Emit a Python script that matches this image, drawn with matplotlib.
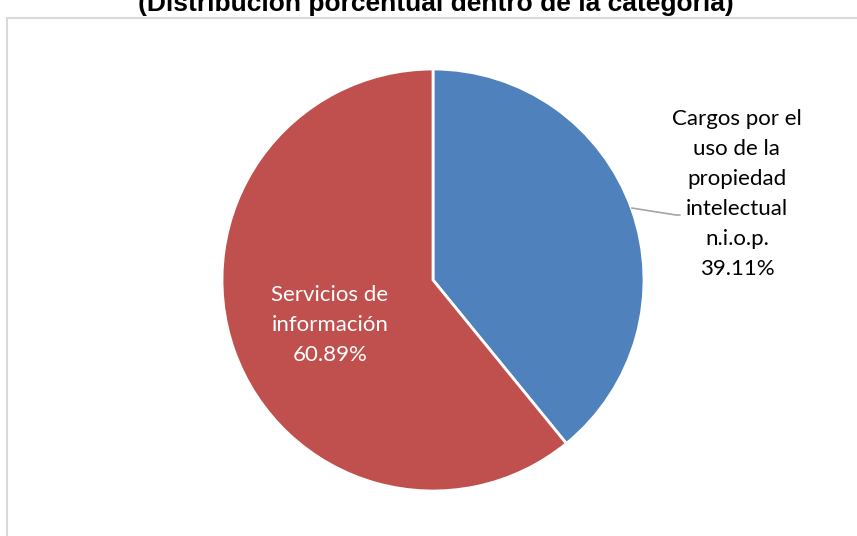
import matplotlib.pyplot as plt
from matplotlib.patches import Rectangle

# share of each service within the category (%)
categories = ["Cargos por el\nuso de la\npropiedad\nintelectual\nn.i.o.p.", "Servicios de\ninformación"]
shares = [39.11, 60.89]
colors = ["#4F81BD", "#C0504D"]
title = "(Distribución porcentual dentro de la categoría)"

W, H = 857, 536
fig = plt.figure(figsize=(W / 100, H / 100), dpi=100)

# light frame of the chart area
fig.patches.append(Rectangle((7 / W, -0.1), 1.2, 1 - 18 / H + 0.1, transform=fig.transFigure,
                             facecolor="none", edgecolor="#d9d9d9", lw=1.5))

fig.text(436 / W, 1 - 11 / H, title, ha="center", va="baseline",
         fontsize=19, fontweight="bold", family="Liberation Sans")

# pie axes: centre (433, 280), radius 211 px
cx, cy, r = 433, 280, 211
ax = fig.add_axes([(cx - r) / W, (H - cy - r) / H, 2 * r / W, 2 * r / H])

wedges, _ = ax.pie(shares, colors=colors, startangle=90, counterclock=False, radius=1,
                   wedgeprops=dict(edgecolor="white", linewidth=2))
ax.set_xlim(-1, 1)
ax.set_ylim(-1, 1)
ax.set_aspect("equal")
ax.axis("off")

font = "Lato"
ax.text(-0.488, -0.213, f"{categories[1]}\n{shares[1]:.2f}%", ha="center", va="center",
        color="white", fontsize=16, family=font, linespacing=1.62)
ax.text(1.44, 0.408, f"{categories[0]}\n{shares[0]:.2f}%", ha="center", va="center",
        color="black", fontsize=16, family=font, linespacing=1.62, clip_on=False)

# leader line to the outside label
ax.plot([0.943, 1.152, 1.17], [0.341, 0.308, 0.308], color="#a6a6a6", lw=1.2, clip_on=False)

fig.savefig("out.png", dpi=100)
